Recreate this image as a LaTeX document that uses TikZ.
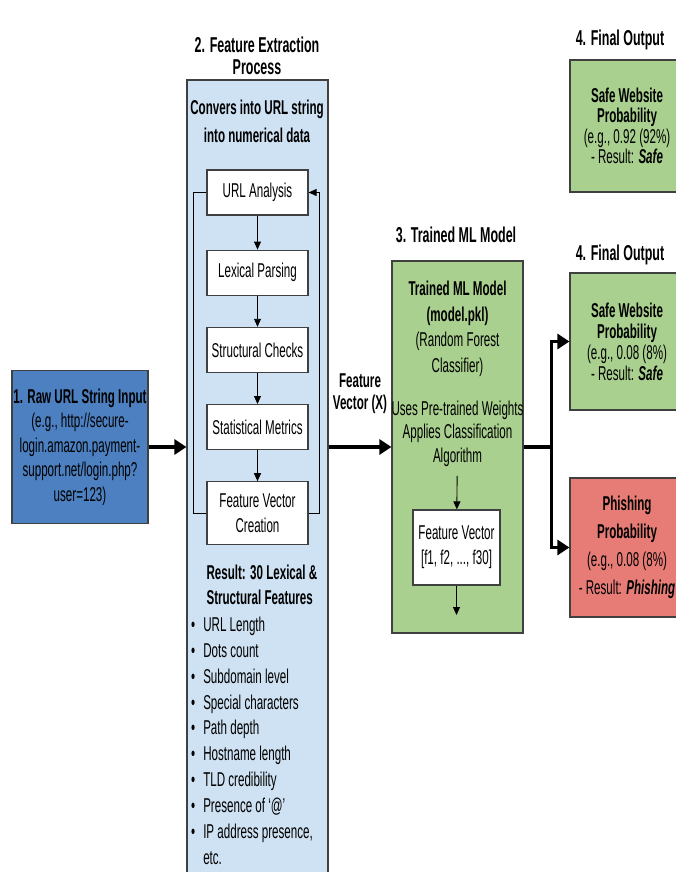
\documentclass[tikz,border=0pt]{standalone}
\usepackage{fontspec}
\setmainfont{Liberation Sans}[FakeStretch=0.58]
\usetikzlibrary{positioning,arrows.meta}
\definecolor{rawblue}{RGB}{76,128,192}
\definecolor{feblue}{RGB}{207,226,243}
\definecolor{mlgreen}{RGB}{169,208,142}
\definecolor{phishred}{RGB}{231,124,118}
\tikzstyle{panel}=[draw=black!75,line width=1.2pt,fill=#1,align=center,inner sep=0pt]
\tikzstyle{stepbox}=[draw=black!75,line width=1.2pt,fill=white,align=center,minimum width=101pt,minimum height=45pt,inner sep=0pt]
\tikzstyle{heading}=[font=\bfseries\fontsize{21.5}{22}\selectfont,align=center]
\tikzstyle{bigarrow}=[line width=3.5pt,-{Triangle[length=12pt,width=15pt]}]
\tikzstyle{smallarrow}=[line width=0.9pt,-{Triangle[length=8pt,width=7pt]}]
\newcommand{\procstep}[3]{\node[stepbox,#2] (#1) {#3};}
\newcommand{\flowedge}[2]{\draw[smallarrow] (#1) -- (#2);}
\tikzset{
	node distance=31pt and 31pt
}

\begin{document}
\begin{tikzpicture}[x=1pt,y=-1pt,font=\fontsize{20}{22}\selectfont]
    \useasboundingbox (0,0) rectangle (675,872);

    % 1. raw input
    \node[panel=rawblue,minimum width=136pt,minimum height=153pt,font=\fontsize{20}{24.5}\selectfont] (raw) at (80,447)
        {\textbf{1. Raw URL String Input}\\(e.g., http://secure-\\login.amazon.payment-\\support.net/login.php?\\user=123)};

    % 2. feature extraction
    \node[panel=feblue,minimum width=141pt,minimum height=820pt] (fe) at (257.5,490) {};
    \node[heading] (fetitle) at (257,56) {2. Feature Extraction\\Process};
    \node[font=\bfseries\fontsize{20}{28}\selectfont,align=center] (fedesc) at (257,121) {Convers into URL string\\into numerical data};

    \procstep{url}{at={(257.5,192.5)}}{URL Analysis}
    \procstep{lex}{below=34pt of url}{Lexical Parsing}
    \procstep{struct}{below=of lex}{Structural Checks}
    \procstep{stat}{below=of struct}{Statistical Metrics}
    \procstep{fvc}{below=of stat,minimum height=63pt,font=\fontsize{20}{25}\selectfont}{Feature Vector\\Creation}

    \flowedge{url}{lex}
    \flowedge{lex}{struct}
    \flowedge{struct}{stat}
    \flowedge{stat}{fvc}
    \draw[line width=0.9pt] (url.west) -- ++(-13,0) |- (fvc.west);
    \draw[smallarrow] (fvc.east) -- ++(11,0) |- (url.east);

    \node[anchor=west,align=left,font=\bfseries\fontsize{20}{25}\selectfont] (result) at (203,584.5) {Result: 30 Lexical \&\\Structural Features};
    \node[anchor=north west,inner sep=0pt,font=\fontsize{20}{25.9}\selectfont] (feats) at (191,613)
        {\begin{tabular}{@{}l@{\hspace{8pt}}l@{}}
        \textbullet & URL Length\\
        \textbullet & Dots count\\
        \textbullet & Subdomain level\\
        \textbullet & Special characters\\
        \textbullet & Path depth\\
        \textbullet & Hostname length\\
        \textbullet & TLD credibility\\
        \textbullet & Presence of `@'\\
        \textbullet & IP address presence,\\
                    & etc.
        \end{tabular}};

    \node[font=\bfseries\fontsize{20}{22}\selectfont,align=center] (fvlabel) at (360,394) {Feature\\Vector (X)};

    % 3. trained model
    \node[heading] (mltitle) at (456,235) {3. Trained ML Model};
    \node[panel=mlgreen,minimum width=131pt,minimum height=372pt] (ml) at (457.5,447) {};
    \node[align=center,font=\fontsize{20}{25.5}\selectfont] (mlname) at (457.5,329)
        {\textbf{Trained ML Model}\\\textbf{(model.pkl)}\\(Random Forest\\Classifier)};
    \node[align=center,font=\fontsize{20}{23.5}\selectfont] (mluse) at (457.5,433.5)
        {Uses Pre-trained Weights\\Applies Classification\\Algorithm};
    \node[stepbox,minimum width=87pt,minimum height=75pt,font=\fontsize{20}{25}\selectfont] (vec) at (456.5,547.5)
        {Feature Vector\\{}[f1, f2, ..., f30]};
    \coordinate (mlout) at (456.5,615);
    \draw[smallarrow,shorten <=6pt] (mluse) -- (vec);
    \flowedge{vec}{mlout}

    % 4. outputs
    \node[heading] (out1title) at (620,40) {4. Final Output};
    \node[panel=mlgreen,minimum width=114pt,minimum height=132pt,font=\fontsize{20}{20.5}\selectfont] (safe1) at (627,126)
        {\textbf{Safe Website}\\\textbf{Probability}\\(e.g., 0.92 (92\%)\\- Result: \textbf{\textit{Safe}}};
    \node[heading] (out2title) at (620,255) {4. Final Output};
    \node[panel=mlgreen,minimum width=114pt,minimum height=137pt,font=\fontsize{20}{21}\selectfont] (safe2) at (627,341.5)
        {\textbf{Safe Website}\\\textbf{Probability}\\(e.g., 0.08 (8\%)\\- Result: \textbf{\textit{Safe}}};
    \node[panel=phishred,minimum width=114pt,minimum height=139pt,font=\fontsize{20}{28}\selectfont] (phish) at (627,547.5)
        {\textbf{Phishing}\\\textbf{Probability}\\(e.g., 0.08 (8\%)\\- Result: \textbf{\textit{Phishing}}};

    % thick connectors
    \draw[bigarrow] (raw.east) -- (raw -| fe.west);
    \draw[bigarrow] (fe.east |- ml) -- (ml.west);
    \draw[line width=3.5pt] (ml.east) -- ++(28,0) coordinate (split);
    \draw[bigarrow] (split) |- (safe2.west);
    \draw[bigarrow] (split) |- (phish.west);
\end{tikzpicture}
\end{document}
